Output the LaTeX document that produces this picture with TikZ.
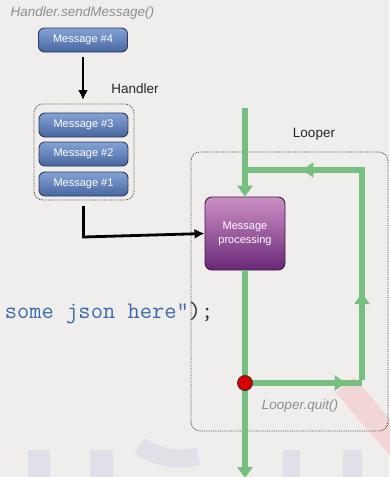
\documentclass[tikz,border=0pt]{standalone}
\usepackage{fontspec}
\setmainfont{Liberation Sans}
\usetikzlibrary{arrows.meta,decorations.markings}
\definecolor{bg}{HTML}{EFEEEC}
\definecolor{msgtop}{HTML}{86A3D6}
\definecolor{msgbot}{HTML}{47669F}
\definecolor{msgborder}{HTML}{2A3A5A}
\definecolor{proctop}{HTML}{CC90C6}
\definecolor{procbot}{HTML}{6A2878}
\definecolor{procborder}{HTML}{3A1A40}
\definecolor{loopgreen}{HTML}{77BF80}
\definecolor{codeblue}{HTML}{3C6CA8}
\definecolor{wm}{HTML}{E0E0E8}
\definecolor{wmpink}{HTML}{F2D6D6}
\definecolor{labelgray}{HTML}{8E8E8E}
\begin{document}
\begin{tikzpicture}[x=1pt,y=-1pt,
  msg/.style={draw=msgborder, line width=0.9pt, rounded corners=6pt, top color=msgtop, bottom color=msgbot,
    minimum width=89pt, minimum height=24pt, text=white, font=\fontsize{11}{12}\selectfont, inner sep=0pt},
  procbox/.style={draw=procborder, line width=0.9pt, rounded corners=7pt, top color=proctop, bottom color=procbot,
    minimum width=80pt, minimum height=73pt, text=white, font=\fontsize{11}{14}\selectfont, align=center, inner sep=0pt},
  grouping/.style={draw=black!75, densely dotted, line width=0.8pt, rounded corners=9pt},
  blackarrow/.style={draw=black, line width=2.8pt, -{Latex[length=10pt,width=10pt]}},
  gline/.style={draw=loopgreen, line width=5.5pt, line join=miter},
  gtip/.style={-{Triangle[width=15pt,length=11pt]}},
  midtip/.style={postaction={decorate, decoration={markings, mark=at position #1 with {\arrow{Triangle[width=15pt,length=11pt]}}}}},
  caption/.style={text=labelgray, font=\fontsize{13.5}{14}\selectfont\itshape},
  title/.style={text=black!85, font=\fontsize{13.5}{14}\selectfont}
]
% background
\fill[bg] (0,0) rectangle (389,477);
\path[use as bounding box] (0,0) rectangle (389,477);

% watermark
\draw[wmpink, line width=24pt] (345,385) -- (405,455);
\fill[wm] (28,450) rectangle (50,477);
\fill[wm] (90,450) rectangle (113,477);
\draw[wm, line width=18pt] (198,456) arc[start angle=75, end angle=125, radius=70];
\fill[wm] (283,450) rectangle (300,477);
\fill[wm] (343,450) rectangle (362,477);

% code fragment
\node[anchor=base west, inner sep=0pt, font=\fontsize{23.8}{24}\selectfont\ttfamily] (code) at (-7.5,318)
  {\textcolor{codeblue}{\symbol{"27}some json here\symbol{"22}}\textcolor{black!80}{);}};

% Handler side
\node[caption, anchor=west] (send) at (7,13) {Handler.sendMessage()};
\node[msg] (m4) at (83,40) {Message \#4};
\node[title] (handlerlbl) at (135,89) {Handler};
\node[msg] (m3) at (83.5,125) {Message \#3};
\node[msg] (m2) at (83.5,154) {Message \#2};
\node[msg] (m1) at (83.5,184) {Message \#1};
\draw[grouping] (34,104) rectangle (134,200);
\coordinate (hbottom) at (83.5,206);
\coordinate (hbend) at (83.5,237);

% Looper side
\node[title] (looperlbl) at (314,134) {Looper};
\draw[grouping] (191,152) rectangle (388,431);
\node[procbox] (proc) at (245,233.5) {Message\\processing};
\node[caption] (quitlbl) at (300,406) {Looper.quit()};

\coordinate (gtop) at (245,108);
\coordinate (join) at (245,170);
\coordinate (tr) at (362,170);
\coordinate (br) at (362,383);
\coordinate (qpt) at (245,383);
\coordinate (gout) at (245,478);

% black connectors
\draw[blackarrow, shorten <=5pt, shorten >=4pt] (m4) -- (83,104);
\draw[blackarrow, line join=miter] (hbottom) -- (hbend) -- (proc.west);

% green flow
\draw[gline, gtip] (gtop) -- (proc.north);
\draw[gline] (proc.south) -- (qpt);
\draw[gline, midtip=0.86] (qpt) -- (br);
\draw[gline, midtip=0.42] ([yshift=2.75pt]br) -- ([yshift=-2.75pt]tr);
\draw[gline, midtip=0.52] ([xshift=2.75pt]tr) -- (join);
\draw[gline, gtip] (qpt) -- (gout);
\node[circle, draw=black!80, line width=0.8pt, fill=red!85!black, minimum size=15pt, inner sep=0pt] (quit) at (qpt) {};
\end{tikzpicture}
\end{document}
